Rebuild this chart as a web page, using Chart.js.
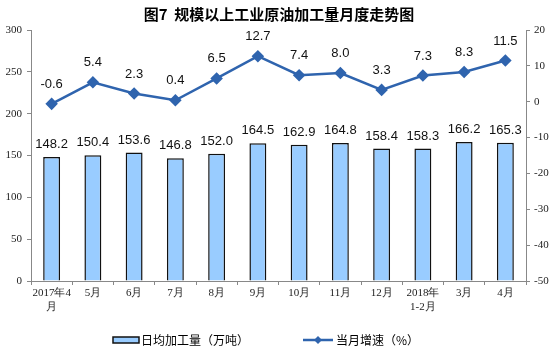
<!DOCTYPE html>
<html><head><meta charset="utf-8">
<script src="https://cdn.jsdelivr.net/npm/chart.js@4.4.0/dist/chart.umd.min.js"></script>
<style>html,body{margin:0;padding:0;background:#fff}#wrap{width:554px;height:347px;position:relative}</style>
</head><body><div id="wrap"><canvas id="c" width="554" height="347"></canvas></div>
<script>
const categories = [["2017年4","月"],"5月","6月","7月","8月","9月","10月","11月","12月",["2018年","1-2月"],"3月","4月"];
const dailyOutput = [148.2,150.4,153.6,146.8,152.0,164.5,162.9,164.8,158.4,158.3,166.2,165.3];
const growth = [-0.6,5.4,2.3,0.4,6.5,12.7,7.4,8.0,3.3,7.3,8.3,11.5];
const leftTicks = [0,50,100,150,200,250,300];
const rightTicks = [-50,-40,-30,-20,-10,0,10,20];
const titleText = "图7  规模以上工业原油加工量月度走势图";
const barLegend = "日均加工量（万吨）";
const lineLegend = "当月增速（%）";

const lineColor = "#2F64AE";
const sans = "'Liberation Sans', Arial, sans-serif";
const serif = "'Liberation Serif', 'Times New Roman', serif";
const cjk = "'Noto Sans CJK SC', sans-serif";

const extras = {
  id: 'extras',
  afterDatasetsDraw(chart) {
    const ctx = chart.ctx;
    ctx.save();
    ctx.fillStyle = '#111';
    ctx.font = "13px " + sans;
    ctx.textAlign = 'center';
    ctx.textBaseline = 'bottom';
    const bm = chart.getDatasetMeta(0);
    bm.data.forEach((el, i) => {
      ctx.fillText(dailyOutput[i].toFixed(1), el.x, el.y - 6);
    });
    const lm = chart.getDatasetMeta(1);
    lm.data.forEach((el, i) => {
      ctx.fillText(growth[i].toFixed(1), el.x, el.y - 13);
    });
    ctx.restore();
  },
  afterDraw(chart) {
    const ctx = chart.ctx;
    ctx.save();
    // title
    ctx.fillStyle = '#000';
    ctx.font = "bold 15px " + cjk;
    ctx.textAlign = 'center';
    ctx.textBaseline = 'middle';
    ctx.fillText(titleText, 279, 14);
    // legend
    const ly = 340;
    ctx.fillStyle = '#99CCFF';
    ctx.strokeStyle = '#111';
    ctx.lineWidth = 1.5;
    ctx.fillRect(113, ly - 3, 26, 6);
    ctx.strokeRect(113, ly - 3, 26, 6);
    ctx.font = "12px " + cjk;
    ctx.fillStyle = '#000';
    ctx.textAlign = 'left';
    ctx.fillText(barLegend, 141, ly);
    ctx.strokeStyle = lineColor;
    ctx.lineWidth = 2.5;
    ctx.beginPath();
    ctx.moveTo(303, ly);
    ctx.lineTo(333, ly);
    ctx.stroke();
    ctx.fillStyle = lineColor;
    ctx.beginPath();
    ctx.moveTo(318, ly - 4); ctx.lineTo(322, ly); ctx.lineTo(318, ly + 4); ctx.lineTo(314, ly);
    ctx.closePath(); ctx.fill();
    ctx.fillStyle = '#000';
    ctx.fillText(lineLegend, 336, ly);
    ctx.restore();
  }
};

new Chart(document.getElementById('c'), {
  data: {
    labels: categories,
    datasets: [
      { type: 'bar', label: barLegend, data: dailyOutput, yAxisID: 'y',
        backgroundColor: '#99CCFF', borderColor: '#111', borderWidth: 1.5,
        barPercentage: 0.41, categoryPercentage: 1.0, order: 2 },
      { type: 'line', label: lineLegend, data: growth, yAxisID: 'y2',
        borderColor: lineColor, backgroundColor: lineColor, borderWidth: 2.5,
        pointStyle: 'rectRot', pointRadius: 4.5, pointBackgroundColor: lineColor,
        pointBorderColor: lineColor, tension: 0, order: 1 }
    ]
  },
  options: {
    responsive: false, animation: false, devicePixelRatio: 1,
    layout: { padding: { top: 30, left: 0, right: 0, bottom: 0 } },
    plugins: { legend: { display: false }, tooltip: { enabled: false }, title: { display: false } },
    scales: {
      x: {
        offset: true,
        grid: { display: true, drawOnChartArea: false, offset: true, tickLength: 4, color: '#888' },
        border: { color: '#888' },
        ticks: { font: { size: 11, family: serif }, color: '#222', maxRotation: 0, autoSkip: false, padding: 2 },
        afterFit(s) { s.height = 66; }
      },
      y: {
        position: 'left', min: 0, max: 300,
        afterBuildTicks(s) { s.ticks = leftTicks.map(v => ({ value: v })); },
        grid: { drawOnChartArea: false, tickLength: 4, color: '#888' },
        border: { color: '#888' },
        ticks: { font: { size: 11, family: serif }, color: '#222', padding: 5 },
        afterFit(s) { s.width = 31; }
      },
      y2: {
        position: 'right', min: -50, max: 20,
        afterBuildTicks(s) { s.ticks = rightTicks.map(v => ({ value: v })); },
        grid: { drawOnChartArea: false, tickLength: 4, color: '#888' },
        border: { color: '#888' },
        ticks: { font: { size: 11, family: serif }, color: '#222', padding: 4 },
        afterFit(s) { s.width = 28; }
      }
    }
  },
  plugins: [extras]
});
</script></body></html>
